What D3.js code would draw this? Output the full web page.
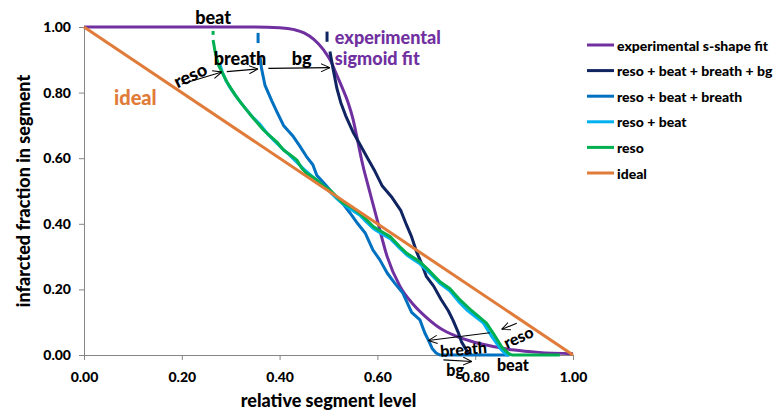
<!DOCTYPE html>
<html>
<head>
<meta charset="utf-8">
<script src="https://cdn.jsdelivr.net/npm/d3@7"></script>
<style>
  html, body { margin: 0; padding: 0; background: #fff; }
  svg { display: block; font-family: Lato, "Open Sans", sans-serif; font-weight: 900; }
</style>
</head>
<body>
<svg id="chart" width="779" height="414"></svg>
<script>
// ---- data: relative segment level (x) vs. infarcted fraction in segment (y) ----
const sShapeFit = [[0,1],[0.2,1],[0.35,1],[0.40,0.998],[0.43,0.992],[0.45,0.982],[0.47,0.962],[0.49,0.93],
  [0.505,0.895],[0.515,0.86],[0.528,0.815],[0.54,0.77],[0.55,0.72],[0.56,0.65],[0.57,0.58],[0.583,0.505],
  [0.60,0.41],[0.62,0.30],[0.646,0.21],[0.673,0.155],[0.70,0.115],[0.73,0.08],[0.76,0.058],[0.80,0.038],
  [0.84,0.025],[0.88,0.015],[0.93,0.008],[1.0,0.004]];

const resoBeatBreathBg = [[0.503,0.925],[0.509,0.875],[0.517,0.814],[0.525,0.77],[0.535,0.73],[0.55,0.68],
  [0.565,0.64],[0.58,0.60],[0.595,0.56],[0.61,0.515],[0.63,0.48],[0.648,0.44],[0.66,0.395],[0.67,0.36],
  [0.68,0.315],[0.69,0.28],[0.70,0.24],[0.715,0.21],[0.73,0.17],[0.745,0.135],[0.755,0.105],[0.765,0.07],
  [0.772,0.04],[0.786,0.005],[0.79,0]];

const resoBeatBreath = [[0.36,0.909],[0.363,0.874],[0.37,0.823],[0.384,0.775],[0.395,0.74],[0.408,0.70],
  [0.428,0.666],[0.44,0.64],[0.455,0.605],[0.468,0.58],[0.476,0.548],[0.496,0.515],[0.517,0.478],[0.53,0.46],
  [0.544,0.433],[0.56,0.40],[0.575,0.372],[0.591,0.32],[0.605,0.29],[0.62,0.25],[0.635,0.22],[0.652,0.189],
  [0.67,0.13],[0.687,0.107],[0.697,0.067],[0.704,0.046],[0.712,0.02],[0.72,0.006],[0.728,0],[0.87,0]];

const resoBeat = [[0.277,0.89],[0.283,0.862],[0.29,0.838],[0.30,0.812],[0.315,0.78],[0.33,0.752],[0.345,0.725],
  [0.36,0.703],[0.375,0.675],[0.39,0.652],[0.405,0.63],[0.42,0.61],[0.435,0.588],[0.45,0.566],[0.465,0.547],
  [0.48,0.527],[0.50,0.502],[0.515,0.48],[0.53,0.46],[0.55,0.44],[0.565,0.425],[0.578,0.405],[0.592,0.385],
  [0.61,0.368],[0.626,0.355],[0.646,0.325],[0.66,0.305],[0.675,0.29],[0.687,0.278],[0.708,0.248],[0.728,0.218],
  [0.748,0.196],[0.765,0.165],[0.783,0.137],[0.80,0.117],[0.817,0.097],[0.834,0.056],[0.851,0.02],
  [0.861,0.005],[0.865,0],[0.87,0]];

const reso = [[0.264,0.96],[0.268,0.925],[0.275,0.884],[0.285,0.854],[0.292,0.833],[0.309,0.793],[0.323,0.765],
  [0.339,0.735],[0.353,0.71],[0.367,0.686],[0.38,0.668],[0.394,0.65],[0.408,0.625],[0.42,0.612],[0.435,0.595],
  [0.445,0.57],[0.455,0.554],[0.476,0.534],[0.49,0.515],[0.503,0.503],[0.515,0.485],[0.53,0.463],[0.551,0.447],
  [0.565,0.43],[0.578,0.412],[0.592,0.391],[0.61,0.375],[0.626,0.361],[0.646,0.33],[0.66,0.31],[0.675,0.296],
  [0.687,0.284],[0.708,0.254],[0.728,0.223],[0.748,0.203],[0.769,0.168],[0.789,0.14],[0.805,0.12],[0.823,0.097],
  [0.837,0.066],[0.854,0.025],[0.868,0.005],[0.875,0],[0.973,0]];

const ideal = [[0,1],[1,0]];

const seriesNames = ["experimental s-shape fit", "reso + beat + breath + bg", "reso + beat + breath",
  "reso + beat", "reso", "ideal"];
const seriesValues = [sShapeFit, resoBeatBreathBg, resoBeatBreath, resoBeat, reso, ideal];
const seriesColors = ["#7030A0", "#0F2460", "#0070C0", "#00B0F0", "#00B050", "#E07B39"];

// short markers at the top end of the simulated curves: [series index, x, y from, y to]
const startMarks = [[4, 0.264, 0.988, 0.976], [2, 0.356, 0.982, 0.951], [1, 0.497, 0.986, 0.955]];

const tickValues = [0, 0.2, 0.4, 0.6, 0.8, 1.0];

// annotation text: [text, x, y, rotation, colour, font size]
const notes = [
  ["beat", 0.264, 1.029, 0, "#000", 18],
  ["reso", 0.217, 0.854, -25, "#000", 18],
  ["breath", 0.319, 0.905, 0, "#000", 18],
  ["bg", 0.445, 0.905, 0, "#000", 18],
  ["ideal", 0.105, 0.787, 0, "#E07B39", 20],
  ["reso", 0.888, 0.056, -25, "#000", 16],
  ["breath", 0.776, 0.020, -5, "#000", 16],
  ["bg", 0.759, -0.043, 0, "#000", 16],
  ["beat", 0.877, -0.030, 0, "#000", 16]
];
const fitNote = ["experimental", "sigmoid fit"];
const fitNoteAt = [0.513, 0.970, 0.905];

// arrows: [x1, y1, x2, y2], head at the second point
const arrows = [
  [0.200, 0.826, 0.282, 0.863],
  [0.292, 0.864, 0.356, 0.872],
  [0.377, 0.874, 0.503, 0.876],
  [0.885, 0.097, 0.854, 0.078],
  [0.830, 0.068, 0.704, 0.044],
  [0.735, -0.015, 0.793, -0.020]
];

// ---- drawing ----
const svg = d3.select("#chart");
const x = d3.scaleLinear().domain([0, 1]).range([84, 573]);
const y = d3.scaleLinear().domain([0, 1]).range([355, 27]);

svg.append("rect").attr("width", 779).attr("height", 414).attr("fill", "#fff");

const axisColor = "#868686";
const gx = svg.append("g").attr("transform", `translate(0,${y(0)})`)
  .call(d3.axisBottom(x).tickValues(tickValues).tickFormat(d3.format(".2f")).tickSize(5).tickPadding(12));
const gy = svg.append("g").attr("transform", `translate(${x(0)},0)`)
  .call(d3.axisLeft(y).tickValues(tickValues).tickFormat(d3.format(".2f")).tickSize(5).tickPadding(8));
[gx, gy].forEach(g => {
  g.select(".domain").attr("stroke", axisColor);
  g.selectAll(".tick line").attr("stroke", axisColor);
  g.selectAll(".tick text").attr("fill", "#000").style("font-size", "14px")
    .style("font-family", "Lato").style("font-weight", "900");
});

const line = d3.line().x(d => x(d[0])).y(d => y(d[1]));
const smooth = d3.line().x(d => x(d[0])).y(d => y(d[1])).curve(d3.curveMonotoneX);

seriesValues.forEach((vals, i) => {
  svg.append("path").datum(vals)
    .attr("d", i === 0 ? smooth : line)
    .attr("fill", "none")
    .attr("stroke", seriesColors[i])
    .attr("stroke-width", 3)
    .attr("stroke-linejoin", "round");
});

startMarks.forEach(m => {
  svg.append("line")
    .attr("x1", x(m[1])).attr("x2", x(m[1]))
    .attr("y1", y(m[2])).attr("y2", y(m[3]))
    .attr("stroke", seriesColors[m[0]]).attr("stroke-width", 3);
});

// arrows
svg.append("defs").append("marker")
  .attr("id", "head").attr("viewBox", "0 -5 10 10")
  .attr("refX", 10).attr("refY", 0)
  .attr("markerWidth", 9).attr("markerHeight", 9)
  .attr("markerUnits", "userSpaceOnUse").attr("orient", "auto")
  .append("path").attr("d", "M0,-4.5L10,0L0,4.5").attr("fill", "none").attr("stroke", "#000").attr("stroke-width", 1.1);

arrows.forEach(a => {
  svg.append("line")
    .attr("x1", x(a[0])).attr("y1", y(a[1]))
    .attr("x2", x(a[2])).attr("y2", y(a[3]))
    .attr("stroke", "#000").attr("stroke-width", 1.1)
    .attr("marker-end", "url(#head)");
});

// annotation labels
notes.forEach(n => {
  svg.append("text")
    .attr("transform", `translate(${x(n[1])},${y(n[2])}) rotate(${n[3]})`)
    .attr("text-anchor", "middle").attr("dominant-baseline", "central")
    .attr("fill", n[4]).style("font-size", n[5] + "px")
    .text(n[0]);
});
fitNote.forEach((t, i) => {
  svg.append("text")
    .attr("x", x(fitNoteAt[0])).attr("y", y(fitNoteAt[i + 1]))
    .attr("dominant-baseline", "central")
    .attr("fill", seriesColors[0]).style("font-size", "18px")
    .text(t);
});

// axis titles
svg.append("text")
  .attr("x", (x(0) + x(1)) / 2).attr("y", 400)
  .attr("text-anchor", "middle").attr("dominant-baseline", "central")
  .style("font-size", "18px").text("relative segment level");
svg.append("text")
  .attr("transform", `translate(23,${(y(0) + y(1)) / 2}) rotate(-90)`)
  .attr("text-anchor", "middle").attr("dominant-baseline", "central")
  .style("font-size", "18px").text("infarcted fraction in segment");

// legend
const legend = svg.append("g");
seriesNames.forEach((name, i) => {
  const ly = 45 + i * 25.6;
  legend.append("line").attr("x1", 587).attr("x2", 614).attr("y1", ly).attr("y2", ly)
    .attr("stroke", seriesColors[i]).attr("stroke-width", 3);
  legend.append("text").attr("x", 617).attr("y", ly).attr("dominant-baseline", "central")
    .style("font-size", "14px").text(name);
});
</script>
</body>
</html>
